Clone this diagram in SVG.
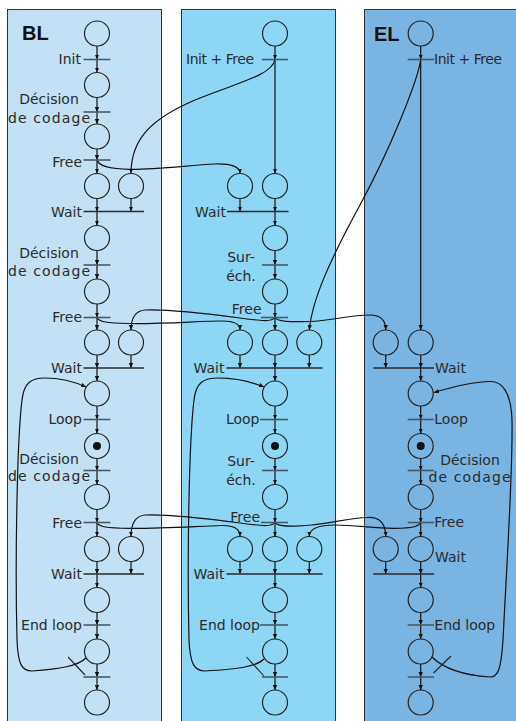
<svg xmlns="http://www.w3.org/2000/svg" width="516" height="721" viewBox="0 0 516 721">
<style>
.lane{stroke:#333;stroke-width:1}
.p{fill:none;stroke:#222;stroke-width:1.2}
.tok{fill:#111}
.t{stroke:#4a5864;stroke-width:1.6}
.w{stroke:#2a2a2a;stroke-width:1.6}
.lbl{font-family:"DejaVu Sans","Liberation Sans",sans-serif;font-size:14px;fill:#2b2b2b}
.ttl{font-family:"Liberation Sans",Arial,sans-serif;font-size:20px;font-weight:bold;fill:#111}
.a{stroke:#111;stroke-width:1.2;fill:none;marker-end:url(#ah)}
.tick{stroke:#222;stroke-width:1.1}
</style>
<defs>
<marker id="ah" viewBox="0 0 6 6" refX="6" refY="3" markerWidth="5" markerHeight="5" markerUnits="userSpaceOnUse" orient="auto"><path d="M0,0.4 L6,3 L0,5.6 z" fill="#111"/></marker>
</defs>
<g id="lanes">
<rect class="lane" x="7.5" y="9.5" width="154" height="720" fill="#c3e1f5"/>
<rect class="lane" x="181.5" y="9.5" width="154" height="720" fill="#8dd6f6"/>
<rect class="lane" x="364.5" y="9.5" width="160" height="720" fill="#7ab4e2"/>
<text class="ttl" x="22" y="40">BL</text>
<text class="ttl" x="374" y="40.5">EL</text>
</g>
<g id="connectors">
<!-- BL vertical -->
<line class="a" x1="97" y1="46" x2="97" y2="59.5"/>
<line class="a" x1="97" y1="59.5" x2="97" y2="72.5"/>
<line class="a" x1="97" y1="97.5" x2="97" y2="112"/>
<line class="a" x1="97" y1="112" x2="97" y2="124"/>
<line class="a" x1="97" y1="149" x2="97" y2="160"/>
<line class="a" x1="97" y1="160" x2="97" y2="173.5"/>
<line class="a" x1="97" y1="198.5" x2="97" y2="211.5"/>
<line class="a" x1="97" y1="211.5" x2="97" y2="225.5"/>
<line class="a" x1="97" y1="250.5" x2="97" y2="265"/>
<line class="a" x1="97" y1="265" x2="97" y2="279"/>
<line class="a" x1="97" y1="304" x2="97" y2="317.5"/>
<line class="a" x1="97" y1="317.5" x2="97" y2="330"/>
<line class="a" x1="97" y1="355" x2="97" y2="368"/>
<line class="a" x1="97" y1="368" x2="97" y2="381"/>
<line class="a" x1="97" y1="406" x2="97" y2="419.5"/>
<line class="a" x1="97" y1="419.5" x2="97" y2="433.5"/>
<line class="a" x1="97" y1="458.5" x2="97" y2="470.5"/>
<line class="a" x1="97" y1="470.5" x2="97" y2="484.5"/>
<line class="a" x1="97" y1="509.5" x2="97" y2="522.5"/>
<line class="a" x1="97" y1="522.5" x2="97" y2="536.5"/>
<line class="a" x1="97" y1="561.5" x2="97" y2="574"/>
<line class="a" x1="97" y1="574" x2="97" y2="587.5"/>
<line class="a" x1="97" y1="612.5" x2="97" y2="625"/>
<line class="a" x1="97" y1="625" x2="97" y2="639"/>
<line class="a" x1="97" y1="664" x2="97" y2="677"/>
<line class="a" x1="97" y1="677" x2="97" y2="690"/>
<line class="a" x1="131" y1="198.5" x2="131" y2="211.5"/>
<line class="a" x1="131" y1="355" x2="131" y2="368"/>
<line class="a" x1="131" y1="561.5" x2="131" y2="574"/>
<!-- middle vertical -->
<line class="a" x1="275" y1="46" x2="275" y2="59.5"/>
<line class="a" x1="275" y1="59.5" x2="275" y2="173.5"/>
<line class="a" x1="275" y1="198.5" x2="275" y2="211.5"/>
<line class="a" x1="275" y1="211.5" x2="275" y2="225.5"/>
<line class="a" x1="275" y1="250.5" x2="275" y2="265"/>
<line class="a" x1="275" y1="265" x2="275" y2="279"/>
<line class="a" x1="275" y1="304" x2="275" y2="317.5"/>
<line class="a" x1="275" y1="317.5" x2="275" y2="330"/>
<line class="a" x1="275" y1="355" x2="275" y2="368"/>
<line class="a" x1="275" y1="368" x2="275" y2="381"/>
<line class="a" x1="275" y1="406" x2="275" y2="419.5"/>
<line class="a" x1="275" y1="419.5" x2="275" y2="433.5"/>
<line class="a" x1="275" y1="458.5" x2="275" y2="470.5"/>
<line class="a" x1="275" y1="470.5" x2="275" y2="484.5"/>
<line class="a" x1="275" y1="509.5" x2="275" y2="522.5"/>
<line class="a" x1="275" y1="522.5" x2="275" y2="536.5"/>
<line class="a" x1="275" y1="561.5" x2="275" y2="574"/>
<line class="a" x1="275" y1="574" x2="275" y2="587.5"/>
<line class="a" x1="275" y1="612.5" x2="275" y2="625"/>
<line class="a" x1="275" y1="625" x2="275" y2="639"/>
<line class="a" x1="275" y1="664" x2="275" y2="677"/>
<line class="a" x1="275" y1="677" x2="275" y2="690"/>
<line class="a" x1="240" y1="198.5" x2="240" y2="211.5"/>
<line class="a" x1="240" y1="355" x2="240" y2="368"/>
<line class="a" x1="309.3" y1="355" x2="309.3" y2="368"/>
<line class="a" x1="240" y1="561.5" x2="240" y2="574"/>
<line class="a" x1="309.3" y1="561.5" x2="309.3" y2="574"/>
<!-- EL vertical -->
<line class="a" x1="420.7" y1="46" x2="420.7" y2="59.5"/>
<line class="a" x1="420.7" y1="59.5" x2="420.7" y2="330"/>
<line class="a" x1="420.7" y1="355" x2="420.7" y2="368"/>
<line class="a" x1="420.7" y1="368" x2="420.7" y2="381"/>
<line class="a" x1="420.7" y1="406" x2="420.7" y2="419.5"/>
<line class="a" x1="420.7" y1="419.5" x2="420.7" y2="433.5"/>
<line class="a" x1="420.7" y1="458.5" x2="420.7" y2="470.5"/>
<line class="a" x1="420.7" y1="470.5" x2="420.7" y2="484.5"/>
<line class="a" x1="420.7" y1="509.5" x2="420.7" y2="522.5"/>
<line class="a" x1="420.7" y1="522.5" x2="420.7" y2="536.5"/>
<line class="a" x1="420.7" y1="561.5" x2="420.7" y2="574"/>
<line class="a" x1="420.7" y1="574" x2="420.7" y2="587.5"/>
<line class="a" x1="420.7" y1="612.5" x2="420.7" y2="625"/>
<line class="a" x1="420.7" y1="625" x2="420.7" y2="639"/>
<line class="a" x1="420.7" y1="664" x2="420.7" y2="677"/>
<line class="a" x1="420.7" y1="677" x2="420.7" y2="690"/>
<line class="a" x1="385.7" y1="355" x2="385.7" y2="368"/>
<line class="a" x1="385.7" y1="561.5" x2="385.7" y2="574"/>
<!-- cross-lane: first row -->
<path class="a" d="M275,59.5 C272,75 240,82 200,98 C150,118 131,140 131,173.5"/>
<path class="a" d="M97,160 C99,166 108,169 130,169.3 C160,169.5 190,165 215,164 C232,163.5 240,167 240,173.5"/>
<!-- second row -->
<path class="a" d="M97,317.5 C99,322 106,323 130,323.5 C165,324 200,321 222,321 C234,321 240,324 240,330"/>
<path class="a" d="M275,317.5 C272,322 262,321 240,318 C210,314 170,309 145,310 C135,311 131,318 131,330"/>
<path class="a" d="M275,317.5 C278,322 290,322 310,321.5 C330,321 350,315 370,315 C381,315 385.7,320 385.7,330"/>
<path class="a" d="M420.7,59.5 C418,80 390,150 360,205 C330,260 312,300 309.3,330"/>
<!-- third row -->
<path class="a" d="M97,522.5 C99,527 106,528 130,528.3 C165,528.5 200,526 222,525.5 C234,525.3 240,529 240,536.5"/>
<path class="a" d="M275,522.5 C272,527 262,526 240,523 C210,519 170,514 145,515 C135,516 131,523 131,536.5"/>
<path class="a" d="M275,522.5 C278,527 290,527 312,525 C332,523 350,518 368,517.5 C380,517 385.7,524 385.7,536.5"/>
<path class="a" d="M420.7,522.5 C418,527 412,528 395,528.3 C375,528.5 355,525 335,525 C320,525 309.3,528 309.3,536.5"/>
<!-- loops -->
<path class="a" d="M86,658 C78,666 60,669 32,671 C22,671 18,665 17,640 C15,560 17,440 22,400 C24,382 32,378 45,378 C60,378 75,382 86,387"/>
<path class="a" d="M264,659 C256,667 238,669 205,671 C195,671 190,665 189,640 C187,560 189,440 194,400 C196,382 204,378 218,378 C235,378 252,382 264,387"/>
<path class="a" d="M432,657 C442,667 460,675 490,677 C498,677 501,670 503,640 C507,560 513,470 512,420 C511,392 502,381 490,381.5 C472,382 452,387 434,392.5"/>
<line class="tick" x1="68" y1="657" x2="85" y2="675"/>
<line class="tick" x1="246.5" y1="657" x2="264" y2="676"/>
<line class="tick" x1="433.5" y1="673" x2="451" y2="656"/>
</g>
<!-- BL places -->
<g id="bl_p1"><circle class="p" cx="97" cy="33.5" r="12.5"/></g>
<g id="bl_p2"><circle class="p" cx="97" cy="85" r="12.5"/></g>
<g id="bl_p3"><circle class="p" cx="97" cy="136.5" r="12.5"/></g>
<g id="bl_p4"><circle class="p" cx="97" cy="186" r="12.5"/></g>
<g id="bl_s1"><circle class="p" cx="131" cy="186" r="12.5"/></g>
<g id="bl_p5"><circle class="p" cx="97" cy="238" r="12.5"/></g>
<g id="bl_p6"><circle class="p" cx="97" cy="291.5" r="12.5"/></g>
<g id="bl_p7"><circle class="p" cx="97" cy="342.5" r="12.5"/></g>
<g id="bl_s2"><circle class="p" cx="131" cy="342.5" r="12.5"/></g>
<g id="bl_p8"><circle class="p" cx="97" cy="393.5" r="12.5"/></g>
<g id="bl_p9"><circle class="p" cx="97" cy="446" r="12.5"/><circle class="tok" cx="97" cy="446" r="4"/></g>
<g id="bl_p10"><circle class="p" cx="97" cy="497" r="12.5"/></g>
<g id="bl_p11"><circle class="p" cx="97" cy="549" r="12.5"/></g>
<g id="bl_s3"><circle class="p" cx="131" cy="549" r="12.5"/></g>
<g id="bl_p12"><circle class="p" cx="97" cy="600" r="12.5"/></g>
<g id="bl_p13"><circle class="p" cx="97" cy="651.5" r="12.5"/></g>
<g id="bl_p14"><circle class="p" cx="97" cy="702.5" r="12.5"/></g>
<!-- BL transitions -->
<g id="bl_t1"><line class="t" x1="83.5" y1="59.5" x2="110.5" y2="59.5"/><text class="lbl" x="81" y="64" text-anchor="end">Init</text></g>
<g id="bl_t2"><line class="t" x1="83.5" y1="112" x2="110.5" y2="112"/><text class="lbl" x="49" y="104" text-anchor="middle">Décision</text><text class="lbl" x="8" y="122.5" textLength="82" lengthAdjust="spacing">de codage</text></g>
<g id="bl_t3"><line class="t" x1="83.5" y1="160" x2="110.5" y2="160"/><text class="lbl" x="82" y="166.5" text-anchor="end">Free</text></g>
<g id="bl_t4"><line class="w" x1="83.5" y1="211.5" x2="144" y2="211.5"/><text class="lbl" x="82" y="216.5" text-anchor="end">Wait</text></g>
<g id="bl_t5"><line class="t" x1="83.5" y1="265" x2="110.5" y2="265"/><text class="lbl" x="49" y="257.5" text-anchor="middle">Décision</text><text class="lbl" x="8" y="275.5" textLength="82" lengthAdjust="spacing">de codage</text></g>
<g id="bl_t6"><line class="t" x1="83.5" y1="317.5" x2="110.5" y2="317.5"/><text class="lbl" x="82" y="322" text-anchor="end">Free</text></g>
<g id="bl_t7"><line class="w" x1="83.5" y1="368" x2="144" y2="368"/><text class="lbl" x="82" y="373" text-anchor="end">Wait</text></g>
<g id="bl_t8"><line class="t" x1="83.5" y1="419.5" x2="110.5" y2="419.5"/><text class="lbl" x="82" y="423.5" text-anchor="end">Loop</text></g>
<g id="bl_t9"><line class="t" x1="83.5" y1="470.5" x2="110.5" y2="470.5"/><text class="lbl" x="49" y="463.5" text-anchor="middle">Décision</text><text class="lbl" x="8" y="481" textLength="82" lengthAdjust="spacing">de codage</text></g>
<g id="bl_t10"><line class="t" x1="83.5" y1="522.5" x2="110.5" y2="522.5"/><text class="lbl" x="82" y="527.5" text-anchor="end">Free</text></g>
<g id="bl_t11"><line class="w" x1="83.5" y1="574" x2="144" y2="574"/><text class="lbl" x="82" y="579" text-anchor="end">Wait</text></g>
<g id="bl_t12"><line class="t" x1="83.5" y1="625" x2="110.5" y2="625"/><text class="lbl" x="82" y="629.5" text-anchor="end">End loop</text></g>
<g id="bl_t13"><line class="t" x1="83.5" y1="677" x2="110.5" y2="677"/></g>
<!-- middle places -->
<g id="md_p1"><circle class="p" cx="275" cy="33.5" r="12.5"/></g>
<g id="md_s1"><circle class="p" cx="240" cy="186" r="12.5"/></g>
<g id="md_p2"><circle class="p" cx="275" cy="186" r="12.5"/></g>
<g id="md_p3"><circle class="p" cx="275" cy="238" r="12.5"/></g>
<g id="md_p4"><circle class="p" cx="275" cy="291.5" r="12.5"/></g>
<g id="md_s2"><circle class="p" cx="240" cy="342.5" r="12.5"/></g>
<g id="md_p5"><circle class="p" cx="275" cy="342.5" r="12.5"/></g>
<g id="md_s3"><circle class="p" cx="309.3" cy="342.5" r="12.5"/></g>
<g id="md_p6"><circle class="p" cx="275" cy="393.5" r="12.5"/></g>
<g id="md_p7"><circle class="p" cx="275" cy="446" r="12.5"/><circle class="tok" cx="275" cy="446" r="4"/></g>
<g id="md_p8"><circle class="p" cx="275" cy="497" r="12.5"/></g>
<g id="md_s4"><circle class="p" cx="240" cy="549" r="12.5"/></g>
<g id="md_p9"><circle class="p" cx="275" cy="549" r="12.5"/></g>
<g id="md_s5"><circle class="p" cx="309.3" cy="549" r="12.5"/></g>
<g id="md_p10"><circle class="p" cx="275" cy="600" r="12.5"/></g>
<g id="md_p11"><circle class="p" cx="275" cy="651.5" r="12.5"/></g>
<g id="md_p12"><circle class="p" cx="275" cy="702.5" r="12.5"/></g>
<!-- middle transitions -->
<g id="md_t1"><line class="t" x1="262" y1="59.5" x2="288" y2="59.5"/><text class="lbl" x="186" y="64" textLength="68" lengthAdjust="spacing">Init + Free</text></g>
<g id="md_t2"><line class="w" x1="227" y1="211.5" x2="288.5" y2="211.5"/><text class="lbl" x="226" y="216.7" text-anchor="end">Wait</text></g>
<g id="md_t3"><line class="t" x1="262" y1="265" x2="288" y2="265"/><text class="lbl" x="241" y="262.3" text-anchor="middle">Sur-</text><text class="lbl" x="241" y="280.7" text-anchor="middle">éch.</text></g>
<g id="md_t4"><line class="t" x1="261" y1="317.5" x2="288" y2="317.5"/><text class="lbl" x="261.5" y="314" text-anchor="end">Free</text></g>
<g id="md_t5"><line class="w" x1="226.5" y1="368" x2="322.5" y2="368"/><text class="lbl" x="224.5" y="372.7" text-anchor="end">Wait</text></g>
<g id="md_t6"><line class="t" x1="260" y1="419.5" x2="288" y2="419.5"/><text class="lbl" x="259.5" y="423.5" text-anchor="end">Loop</text></g>
<g id="md_t7"><line class="t" x1="262" y1="470.5" x2="288" y2="470.5"/><text class="lbl" x="241" y="466" text-anchor="middle">Sur-</text><text class="lbl" x="241" y="485" text-anchor="middle">éch.</text></g>
<g id="md_t8"><line class="t" x1="261" y1="522.5" x2="288" y2="522.5"/><text class="lbl" x="260" y="521.7" text-anchor="end">Free</text></g>
<g id="md_t9"><line class="w" x1="226.5" y1="574" x2="322.5" y2="574"/><text class="lbl" x="224.5" y="579" text-anchor="end">Wait</text></g>
<g id="md_t10"><line class="t" x1="260" y1="625" x2="288" y2="625"/><text class="lbl" x="260" y="629.5" text-anchor="end">End loop</text></g>
<g id="md_t11"><line class="t" x1="262" y1="677" x2="288" y2="677"/></g>
<!-- EL places -->
<g id="el_p1"><circle class="p" cx="420.7" cy="33.5" r="12.5"/></g>
<g id="el_s1"><circle class="p" cx="385.7" cy="342.5" r="12.5"/></g>
<g id="el_p2"><circle class="p" cx="420.7" cy="342.5" r="12.5"/></g>
<g id="el_p3"><circle class="p" cx="420.7" cy="393.5" r="12.5"/></g>
<g id="el_p4"><circle class="p" cx="420.7" cy="446" r="12.5"/><circle class="tok" cx="420.7" cy="446" r="4"/></g>
<g id="el_p5"><circle class="p" cx="420.7" cy="497" r="12.5"/></g>
<g id="el_s2"><circle class="p" cx="385.7" cy="549" r="12.5"/></g>
<g id="el_p6"><circle class="p" cx="420.7" cy="549" r="12.5"/></g>
<g id="el_p7"><circle class="p" cx="420.7" cy="600" r="12.5"/></g>
<g id="el_p8"><circle class="p" cx="420.7" cy="651.5" r="12.5"/></g>
<g id="el_p9"><circle class="p" cx="420.7" cy="702.5" r="12.5"/></g>
<!-- EL transitions -->
<g id="el_t1"><line class="t" x1="407.7" y1="59.5" x2="434" y2="59.5"/><text class="lbl" x="434" y="64" textLength="68" lengthAdjust="spacing">Init + Free</text></g>
<g id="el_t2"><line class="w" x1="373.3" y1="368" x2="434" y2="368"/><text class="lbl" x="435" y="372.7">Wait</text></g>
<g id="el_t3"><line class="t" x1="407.7" y1="419.5" x2="434" y2="419.5"/><text class="lbl" x="434.3" y="423.5">Loop</text></g>
<g id="el_t4"><line class="t" x1="407.7" y1="470.5" x2="434" y2="470.5"/><text class="lbl" x="470" y="465" text-anchor="middle">Décision</text><text class="lbl" x="428.5" y="481.7" textLength="82" lengthAdjust="spacing">de codage</text></g>
<g id="el_t5"><line class="t" x1="407.7" y1="522.5" x2="434" y2="522.5"/><text class="lbl" x="434.3" y="527">Free</text></g>
<g id="el_t6"><line class="w" x1="373.3" y1="574" x2="434" y2="574"/><text class="lbl" x="435" y="561.7">Wait</text></g>
<g id="el_t7"><line class="t" x1="407.7" y1="625" x2="434" y2="625"/><text class="lbl" x="434.3" y="629.5">End loop</text></g>
<g id="el_t8"><line class="t" x1="407.7" y1="677" x2="434" y2="677"/></g>
</svg>
